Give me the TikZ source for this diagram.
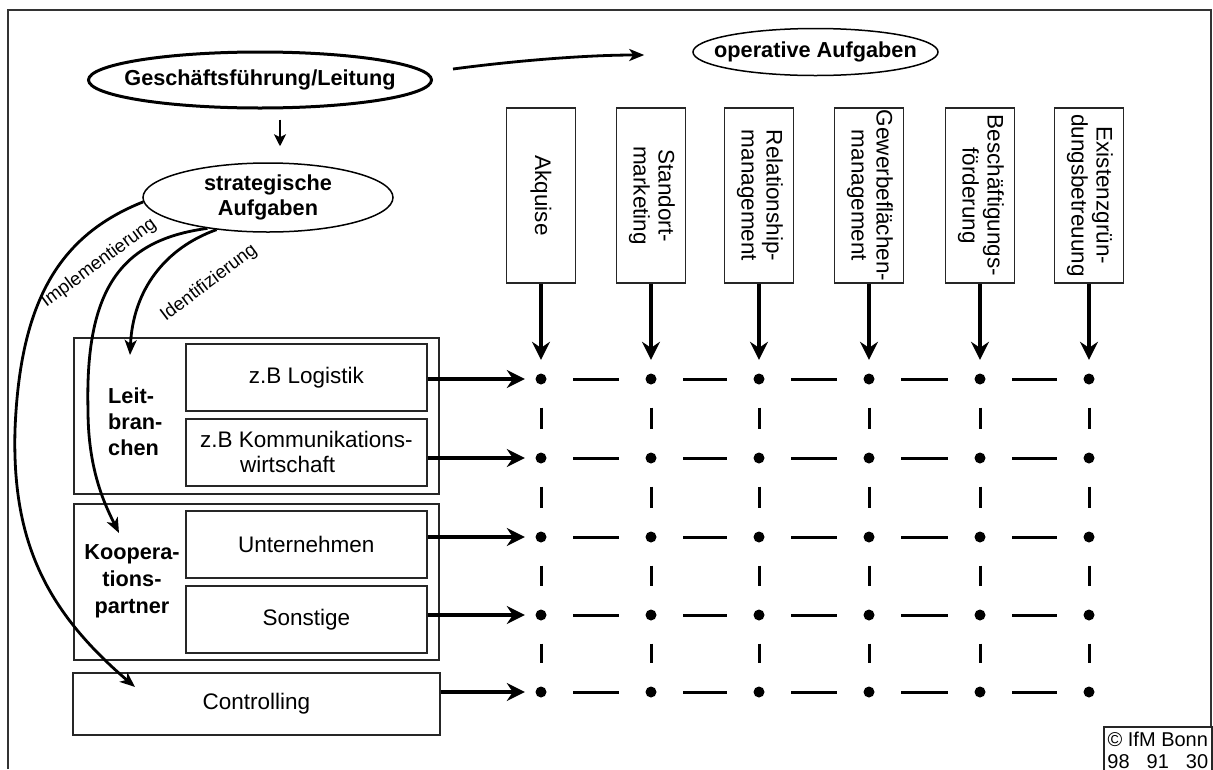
\documentclass[tikz,border=0pt]{standalone}
\usepackage{fontspec}
\setmainfont{Liberation Sans}
\usepackage{graphicx}
\usetikzlibrary{arrows.meta,shapes.geometric}

\tikzset{
  every node/.style={font=\fontsize{22.5}{25}\selectfont},
  bold/.style={font=\fontsize{21.7}{25}\selectfont\bfseries},
  small/.style={font=\fontsize{18.5}{20}\selectfont},
  oval/.style={ellipse, draw, line width=1.5pt, inner sep=0pt},
  box/.style={rectangle, draw=black!85, line width=1.6pt, inner sep=0pt},
  vbox/.style={box, minimum width=69pt, minimum height=175pt},
  wide/.style={box, anchor=north west, minimum width=365pt, minimum height=156pt},
  inner/.style={box, anchor=north west, minimum width=241pt, minimum height=67pt},
  dot/.style={circle, fill=black, inner sep=0pt, minimum size=11pt},
  feed/.style={line width=3.6pt, -{Stealth[length=18pt,width=18pt,inset=6pt]}},
  hdash/.style={line width=3pt, shorten <=26.5pt, shorten >=26.5pt},
  vdash/.style={line width=3pt, shorten <=23pt, shorten >=23pt},
  thinarrow/.style={line width=2pt, -{Stealth[length=12pt,width=12pt,inset=3pt]}},
  swing/.style={line width=2.8pt, -{Stealth[length=15pt,width=12pt,inset=4pt]}},
  frameline/.style={line width=2pt, draw=black!80},
}

\begin{document}
\begin{tikzpicture}[x=1pt, y=-1pt]
\useasboundingbox (0,0) rectangle (1213,769);

% outer frame
\draw[frameline] (8,769) -- (8,10) -- (1211,10) -- (1211,726);
\node[box, anchor=north west, minimum width=108pt, minimum height=48pt,
      align=center, font=\fontsize{20}{22}\selectfont] (ifm) at (1103,726)
      {© IfM Bonn\\98\hspace{17pt}91\hspace{17pt}30};

% management levels
\node[oval, line width=3pt, minimum width=343pt, minimum height=56pt, bold] (gf) at (260,80)
      {\makebox[0pt]{Geschäftsführung/Leitung}};
\node[oval, minimum width=250pt, minimum height=69pt, bold, align=center] (strat) at (268,197.5)
      {strategische\\Aufgaben};
\node[oval, minimum width=245pt, minimum height=47pt, bold] (op) at (815.5,52)
      {\makebox[0pt]{operative Aufgaben}};

\draw[thinarrow, shorten <=10pt, shorten >=16pt] ([xshift=20pt]gf.south) -- ([xshift=12pt]strat.north);
\draw[swing] ([shift={(20,-11)}]gf.east) .. controls +(60,-8) and +(-60,0) .. ([shift={(-48,3)}]op.west);

% operative tasks
\node[vbox] (t1) at (541,195.5) {\rotatebox{-90}{Akquise}};
\node[vbox] (t2) at (651,195.5) {\rotatebox{-90}{\begin{tabular}{@{}c@{}}Standort-\\marketing\end{tabular}}};
\node[vbox] (t3) at (759,195.5) {\rotatebox{-90}{\begin{tabular}{@{}c@{}}Relationship-\\management\end{tabular}}};
\node[vbox] (t4) at (869,195.5) {\rotatebox{-90}{\begin{tabular}{@{}c@{}}Gewerbeflächen-\\management\end{tabular}}};
\node[vbox] (t5) at (980,195.5) {\rotatebox{-90}{\begin{tabular}{@{}c@{}}Beschäftigungs-\\förderung\end{tabular}}};
\node[vbox] (t6) at (1089,195.5) {\rotatebox{-90}{\begin{tabular}{@{}c@{}}Existenzgrün-\\dungsbetreuung\end{tabular}}};

% strategic fields
\node[wide] (leit) at (73,337) {};
\node[inner] (log) at (185,343) {z.B Logistik};
\node[inner, align=left] (kom) at (185,418) {z.B Kommunikations-\\\hspace*{40pt}wirtschaft};
\node[bold, align=left, anchor=west, inner sep=0pt, font=\fontsize{21.7}{26}\selectfont\bfseries] (leitlab) at (108,422) {Leit-\\bran-\\chen};

\node[wide] (koop) at (73,503) {};
\node[inner] (unt) at (185,510) {Unternehmen};
\node[inner] (son) at (185,585) {Sonstige};
\node[bold, align=center, inner sep=0pt, font=\fontsize{21.7}{27}\selectfont\bfseries] (kooplab) at (132,581) {Koopera-\\tions-\\partner};

\node[box, anchor=north west, minimum width=367pt, minimum height=62pt] (ctrl) at (72,672) {Controlling};

% matrix of dots
\foreach \y [count=\r] in {379,458,537,615,692}{
  \foreach \x [count=\c] in {541,651,759,869,980,1089}{
    \node[dot] (d\r-\c) at (\x,\y) {};
  }
}
\foreach \r in {1,...,5}{
  \foreach \c in {1,...,5}{
    \pgfmathtruncatemacro\nxt{\c+1}
    \draw[hdash] (d\r-\c) -- (d\r-\nxt);
  }
}
\foreach \r in {1,...,4}{
  \foreach \c in {1,...,6}{
    \pgfmathtruncatemacro\nxt{\r+1}
    \draw[vdash] (d\r-\c) -- (d\nxt-\c);
  }
}

% feeds into the matrix
\foreach \c in {1,...,6}{
  \draw[feed, shorten >=13.5pt] (t\c.south) -- (d1-\c);
}
\draw[feed, shorten >=10.5pt] (log.east |- d1-1) -- (d1-1);
\draw[feed, shorten >=10.5pt] (kom.east |- d2-1) -- (d2-1);
\draw[feed, shorten >=10.5pt] (unt.east |- d3-1) -- (d3-1);
\draw[feed, shorten >=10.5pt] (son.east |- d4-1) -- (d4-1);
\draw[feed, shorten >=10.5pt] (ctrl.east |- d5-1) -- (d5-1);

% strategic links
\draw[swing] (strat.182) .. controls (60,235) and (20,300) .. (15,430)
      .. controls (12,540) and (45,610) .. ([shift={(63,15)}]ctrl.north west);
\draw[swing] (strat.207) .. controls (120,240) and (85,290) .. (88,410)
      .. controls (88,470) and (105,505) .. ([shift={(46,30)}]koop.north west);
\draw[swing] (strat.212) .. controls (165,248) and (133,290) .. ([shift={(57,18)}]leit.north west);

\node[small, rotate=36.5] (impl) at (99,263) {Implementierung};
\node[small, rotate=37] (ident) at (209,283) {Identifizierung};
\end{tikzpicture}
\end{document}
